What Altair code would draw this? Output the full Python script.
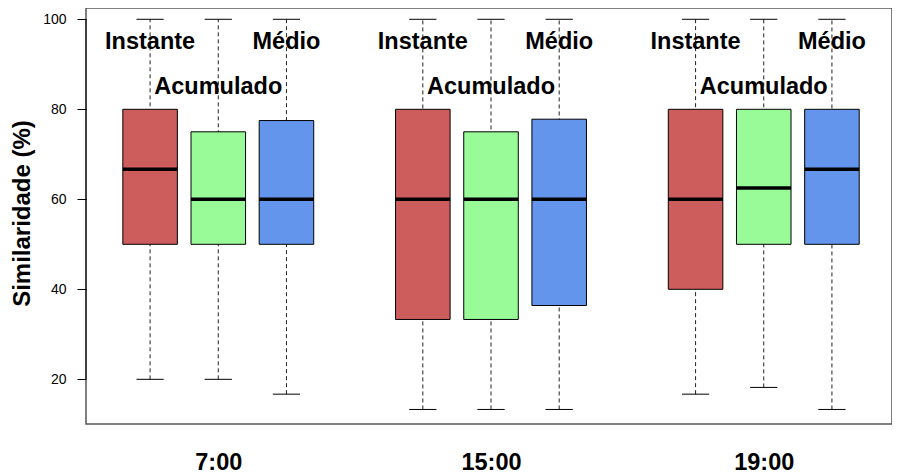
import altair as alt
import pandas as pd

groups = ["7:00", "15:00", "19:00"]
series = ["Instante", "Acumulado", "Médio"]
colors = ["#CD5C5C", "#98FB98", "#6495ED"]
lower  = [20, 20, 16.7, 13.3, 13.3, 13.3, 16.7, 18.2, 13.3]
q1     = [50, 50, 50, 33.3, 33.3, 36.4, 40, 50, 50]
median = [66.7, 60, 60, 60, 60, 60, 60, 62.5, 66.7]
q3     = [80, 75, 77.5, 80, 75, 77.8, 80, 80, 80]
upper  = [100, 100, 100, 100, 100, 100, 100, 100, 100]
label_y = [95, 85, 95]
y_ticks = [20, 40, 60, 80, 100]

rows = []
for gi, g in enumerate(groups):
    for si, s in enumerate(series):
        k = gi * 3 + si
        rows.append(dict(group=g, series=s, pos=gi * 4 + si + 1,
                         lower=lower[k], q1=q1[k], median=median[k],
                         q3=q3[k], upper=upper[k], ly=label_y[si]))
df = pd.DataFrame(rows)

FONT = "Liberation Sans"
xs = alt.Scale(domain=[0.06, 11.881], nice=False, zero=False)
ys = alt.Scale(domain=[10.07, 102.51], nice=False, zero=False)

group_pos = [gi * 4 + 2 for gi in range(len(groups))]
label_expr = " : ".join(
    f"datum.value == {p} ? '{g}'" for p, g in zip(group_pos[:-1], groups[:-1])
) + f" : '{groups[-1]}'"

xaxis = alt.Axis(values=group_pos, labelExpr=label_expr, ticks=False, domain=False,
                 grid=False, title=None, labelFont=FONT, labelFontSize=23.5,
                 labelFontWeight="bold", labelColor="black", labelPadding=26)
yaxis = alt.Axis(values=y_ticks, grid=False, domain=False, tickSize=9, tickColor="black",
                 labelFont=FONT, labelFontSize=14, labelColor="black", labelPadding=11,
                 title="Similaridade (%)", titleFont=FONT, titleFontSize=24,
                 titleFontWeight="bold", titleColor="black", titleX=-64, titleY=205,
                 titleAngle=270, titleBaseline="middle", titleAlign="center")


def X(field):
    return alt.X(field, type="quantitative", scale=xs, axis=xaxis)


def Y(field):
    return alt.Y(field, type="quantitative", scale=ys, axis=yaxis)


base = alt.Chart(df).transform_calculate(
    xl="datum.pos - 0.4", xr="datum.pos + 0.4",
    cl="datum.pos - 0.2", cr="datum.pos + 0.2",
)

color = alt.Color("series:N", scale=alt.Scale(domain=series, range=colors), legend=None)

whisker = base.mark_rule(color="#222", strokeWidth=1, strokeDash=[4, 3]).encode(
    x=X("pos"), y=Y("lower"), y2="upper")
cap_hi = base.mark_rule(color="black", strokeWidth=1).encode(
    x=X("cl"), x2="cr", y=Y("upper"))
cap_lo = base.mark_rule(color="black", strokeWidth=1).encode(
    x=X("cl"), x2="cr", y=Y("lower"))
box = base.mark_rect(stroke="black", strokeWidth=1).encode(
    x=X("xl"), x2="xr", y=Y("q1"), y2="q3", color=color)
med = base.mark_rule(color="black", strokeWidth=3.5).encode(
    x=X("xl"), x2="xr", y=Y("median"))
labels = base.mark_text(font=FONT, fontSize=23.5, fontWeight="bold", color="black",
                        baseline="middle", align="center").encode(
    x=X("pos"), y=Y("ly"), text="series:N")
axis_line = alt.Chart(pd.DataFrame({"a": [y_ticks[0]], "b": [y_ticks[-1]]})).mark_rule(
    color="black", strokeWidth=1).encode(x=alt.value(0), y=Y("a"), y2="b")

chart = alt.layer(whisker, cap_hi, cap_lo, box, med, labels, axis_line).properties(
    width=806, height=416,
    autosize=alt.AutoSizeParams(type="none"),
    padding={"left": 78, "top": 0, "right": 0, "bottom": 49},
).configure_view(stroke="#555", strokeWidth=1.5)

chart.save("out.html", embed_options={"renderer": "svg", "actions": False})
